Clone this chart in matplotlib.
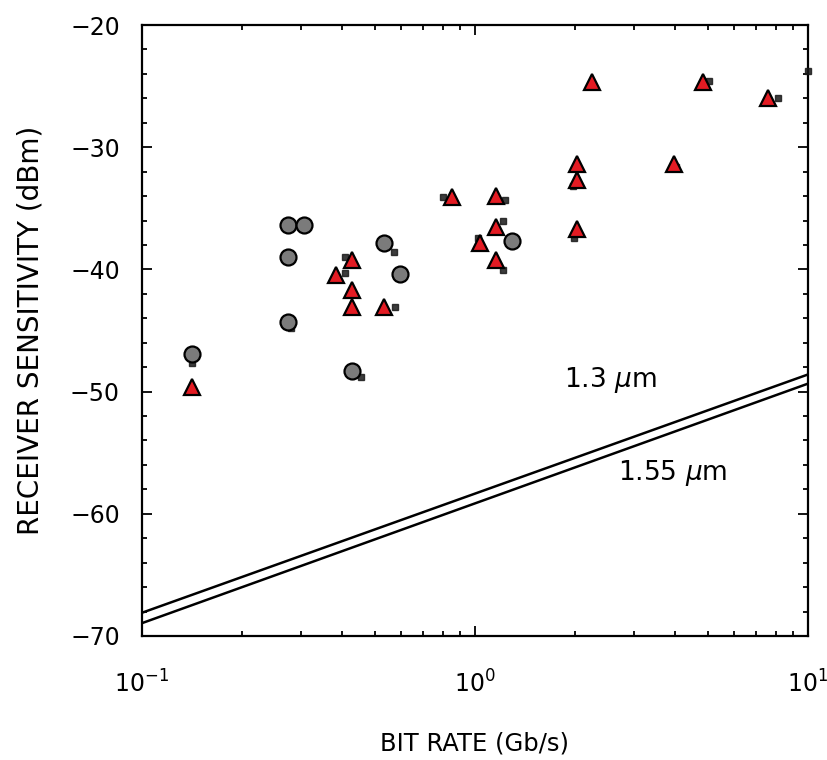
import matplotlib
matplotlib.use("Agg")
import matplotlib.pyplot as plt
from matplotlib.ticker import LogLocator, MultipleLocator, NullFormatter, FixedLocator

# Receiver sensitivity measurements (bit rate in Gb/s, sensitivity in dBm)
circle_rate = [0.141, 0.274, 0.307, 0.274, 0.274, 0.427, 0.533, 0.595, 1.29]
circle_sens = [-46.9, -36.4, -36.4, -39.0, -44.3, -48.3, -37.8, -40.4, -37.7]

triangle_rate = [0.141, 0.382, 0.427, 0.427, 0.427, 0.533, 0.851, 1.035, 1.157,
                 1.157, 1.157, 2.02, 2.02, 2.02, 2.24, 3.96, 4.85, 7.57]
triangle_sens = [-49.6, -40.5, -39.2, -41.7, -43.1, -43.05, -34.05, -37.85, -34.0,
                 -36.5, -39.2, -31.4, -32.7, -36.7, -24.64, -31.4, -24.64, -26.0]

dot_rate = [0.141, 0.454, 0.280, 0.407, 0.407, 0.571, 0.575, 0.803, 1.216,
            1.019, 1.211, 1.228, 1.983, 1.97, 5.05, 8.14, 10.0, 4.01]
dot_sens = [-47.7, -48.8, -44.8, -39.0, -40.3, -38.6, -43.05, -34.05, -36.0,
            -37.4, -40.05, -34.3, -37.45, -33.2, -24.6, -26.0, -23.8, -31.65]

# Quantum-limit lines
limit_rate = [0.1, 10.0]
limit_13 = [-68.1, -48.6]
limit_155 = [-68.95, -49.35]

x_ticks = [0.1, 1.0, 10.0]
x_ticklabels = [r"$10^{-1}$", r"$10^{0}$", r"$10^{1}$"]
y_ticks = [-70, -60, -50, -40, -30, -20]

fig = plt.figure(figsize=(8.27, 7.60), dpi=100)
ax = fig.add_axes([0.1717, 0.1632, 0.977 - 0.1717, 0.9671 - 0.1632])

ax.plot(limit_rate, limit_13, color="black", lw=1.8, zorder=2)
ax.plot(limit_rate, limit_155, color="black", lw=1.8, zorder=2)

ax.plot(dot_rate, dot_sens, ls="none", marker="s", ms=4.5, color="#1a1a1a",
        alpha=0.85, zorder=3, clip_on=False)
ax.plot(circle_rate, circle_sens, ls="none", marker="o", ms=11.5,
        markerfacecolor="#7b7b7b", markeredgecolor="black", markeredgewidth=1.6, zorder=4)
ax.plot(triangle_rate, triangle_sens, ls="none", marker="^", ms=12,
        markerfacecolor="#e31b23", markeredgecolor="black", markeredgewidth=1.6, zorder=5)

ax.set_xscale("log")
ax.set_xlim(0.1, 10)
ax.set_ylim(-70, -20)

ax.xaxis.set_major_locator(FixedLocator(x_ticks))
ax.set_xticklabels(x_ticklabels)
ax.xaxis.set_minor_locator(LogLocator(base=10, subs=range(2, 10)))
ax.xaxis.set_minor_formatter(NullFormatter())
ax.yaxis.set_major_locator(FixedLocator(y_ticks))
ax.set_yticklabels([f"\u2212{abs(v)}" for v in y_ticks])
ax.yaxis.set_minor_locator(MultipleLocator(2))

ax.tick_params(which="both", direction="in", top=True, right=True, width=1.3)
ax.tick_params(which="major", length=7)
ax.tick_params(which="minor", length=3.5)
ax.tick_params(axis="y", which="major", labelsize=17, pad=16)
ax.tick_params(axis="x", which="major", labelsize=17, pad=25)

for s in ax.spines.values():
    s.set_linewidth(1.6)

ax.set_xlabel("BIT RATE (Gb/s)", fontsize=17.5)
ax.xaxis.set_label_coords(0.5, -0.157)
ax.set_ylabel("RECEIVER SENSITIVITY (dBm)", fontsize=20)
ax.yaxis.set_label_coords(-0.146, 0.5)

ax.text(1.85, -49.05, r"1.3 $\mu$m", fontsize=19, va="center", ha="left")
ax.text(2.69, -56.66, r"1.55 $\mu$m", fontsize=19, va="center", ha="left")

fig.savefig("out.png", dpi=100)
